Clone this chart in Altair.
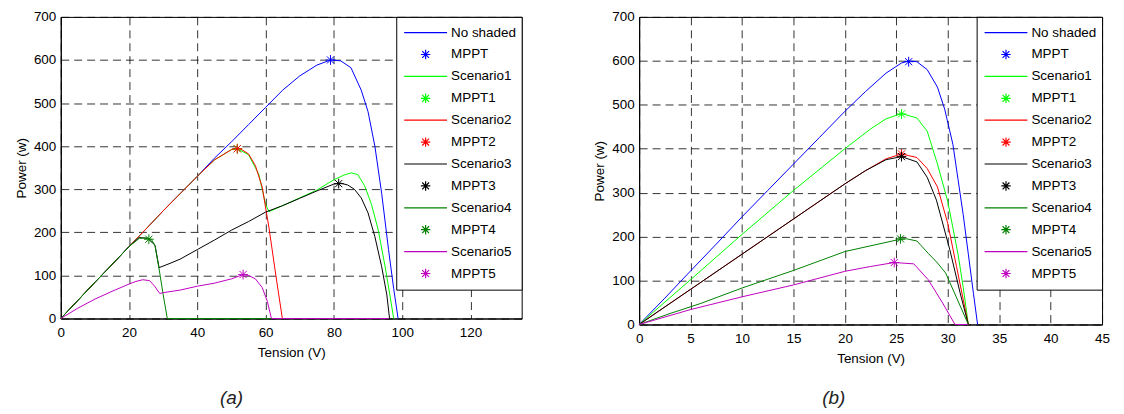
import altair as alt
import pandas as pd

# ---------------- Panel (a) ----------------
a_noshade_v = [0, 5, 10, 15, 20, 25, 30, 35, 40, 45, 50, 55, 60, 65, 70, 75, 79, 82, 85, 88, 90, 92, 94, 96, 97.5, 98.8]
a_noshade_p = [0, 42, 84, 125, 167, 208, 250, 290, 330, 372, 410, 450, 490, 530, 563, 588, 600, 598, 582, 530, 480, 400, 290, 160, 70, 0]

a_sc1_v = [0, 5, 10, 15, 20, 25, 30, 35, 40, 45, 50, 52, 55, 58, 60, 61, 65, 70, 75, 80, 83, 85, 87, 89, 91, 93, 95, 96.5, 97.5]
a_sc1_p = [0, 42, 84, 125, 167, 208, 250, 290, 330, 368, 392, 393, 380, 335, 265, 248, 262, 280, 298, 322, 333, 338, 334, 308, 265, 205, 120, 50, 0]

a_sc2_v = [0, 5, 10, 15, 20, 25, 30, 35, 40, 45, 50, 51.7, 53, 55, 57, 59, 61, 63, 64.9, 66, 96]
a_sc2_p = [0, 42, 84, 125, 167, 208, 250, 290, 330, 368, 392, 395, 392, 382, 355, 305, 210, 100, 0, 0, 0]

a_sc3_v = [0, 5, 10, 15, 20, 23, 25.5, 27.6, 28.8, 32, 35, 40, 45, 50, 55, 60, 65, 70, 75, 80, 82, 84, 86, 88, 90, 92, 94, 95.5, 96.3]
a_sc3_p = [0, 42, 84, 125, 167, 188, 186, 170, 118, 128, 138, 160, 182, 205, 225, 247, 262, 279, 296, 312, 314, 310, 300, 280, 245, 190, 120, 55, 0]

a_sc4_v = [0, 5, 10, 15, 20, 23, 25, 26.5, 27.6, 29, 30, 31.2, 32.5, 96]
a_sc4_p = [0, 42, 84, 125, 167, 186, 187, 184, 170, 105, 55, 0, 0, 0]

a_sc5_v = [0, 5, 10, 15, 20, 22, 24, 26, 27.5, 29, 30, 35, 40, 45, 50, 53.4, 55, 57, 59, 60.5, 61.7, 96]
a_sc5_p = [0, 24, 45, 63, 80, 86, 90, 88, 75, 58, 60, 66, 75, 82, 92, 102, 100, 92, 72, 40, 0, 0]

a_mppt_names = ["MPPT", "MPPT1", "MPPT2", "MPPT3", "MPPT4", "MPPT5"]
a_mppt_v = [79, 51.7, 51.7, 81.4, 25.8, 53.4]
a_mppt_p = [600, 394, 394, 313, 184, 102]

# ---------------- Panel (b) ----------------
b_noshade_v = [0, 2.5, 5, 7.5, 10, 12.5, 15, 17.5, 20, 22, 24, 25.5, 26.2, 27, 28, 29, 29.7, 30.5, 31, 31.5, 32, 32.5, 32.9]
b_noshade_p = [0, 60, 122, 183, 245, 305, 365, 425, 485, 530, 572, 595, 600, 598, 580, 540, 490, 410, 330, 250, 160, 70, 0]

b_sc1_v = [0, 5, 10, 15, 20, 22.5, 24, 25.5, 27, 28, 29, 30, 31, 31.5, 32]
b_sc1_p = [0, 102, 205, 305, 400, 445, 468, 480, 470, 440, 365, 280, 160, 85, 0]

b_sc2_v = [0, 5, 10, 15, 20, 22, 24, 25.5, 27, 28, 29, 30, 30.85, 31.5, 32]
b_sc2_p = [0, 80, 160, 240, 320, 350, 377, 388, 380, 355, 313, 230, 132, 57, 0]

b_sc3_v = [0, 5, 10, 15, 20, 22, 24, 25.5, 27, 28, 28.9, 30.2, 31.2, 32]
b_sc3_p = [0, 80, 160, 240, 320, 350, 375, 382, 370, 335, 283, 170, 72, 0]

b_sc4_v = [0, 3, 6, 10, 15, 20, 25, 26, 27, 28.1, 29, 29.8, 30.8, 32]
b_sc4_p = [0, 25, 48, 83, 123, 166, 192, 195, 190, 162, 140, 117, 64, 0]

b_sc5_v = [0, 5, 10, 15, 20, 22.5, 24.8, 26.7, 28.1, 29.5, 30.7, 32]
b_sc5_p = [0, 34, 63, 90, 121, 132, 141, 138, 102, 49, 0, 0]

b_mppt_names = ["MPPT", "MPPT1", "MPPT2", "MPPT3", "MPPT4", "MPPT5"]
b_mppt_v = [26.2, 25.5, 25.5, 25.5, 25.4, 24.8]
b_mppt_p = [598, 479, 388, 382, 195, 141]

# ---------------- Legend / styling ----------------
SERIES = ["No shaded", "MPPT", "Scenario1", "MPPT1", "Scenario2", "MPPT2",
          "Scenario3", "MPPT3", "Scenario4", "MPPT4", "Scenario5", "MPPT5"]
COLORS = ["#0000ff", "#0000ff", "#00ff00", "#00ff00", "#ff0000", "#ff0000",
          "#000000", "#000000", "#008000", "#008000", "#bf00bf", "#bf00bf"]
LINE_SYM = "M-1,0L1,0"
STAR_SYM = "M0,-0.22L0,0.22M-0.22,0L0.22,0M-0.16,-0.16L0.16,0.16M-0.16,0.16L0.16,-0.16"
SHAPES = [LINE_SYM, STAR_SYM] * 6

FONT = "Liberation Sans"


def lines_frame(curves):
    rows = []
    for name, vs, ps in curves:
        for v, p in zip(vs, ps):
            rows.append({"series": name, "V": v, "P": p})
    return pd.DataFrame(rows)


def pts_frame(names, vs, ps):
    return pd.DataFrame({"series": names, "V": vs, "P": ps})


def panel(ldf, pdf, xmax, xticks, w, h, caption, dx, toff):
    x = alt.X("V:Q", scale=alt.Scale(domain=[0, xmax], nice=False, zero=False),
              axis=alt.Axis(values=xticks, title="Tension (V)", labelFlush=False))
    y = alt.Y("P:Q", scale=alt.Scale(domain=[0, 700], nice=False),
              axis=alt.Axis(values=list(range(0, 701, 100)), title="Power (w)", labelFlush=False))
    leg = alt.Legend(title=None, orient="top-right", offset=0)
    color = alt.Color("series:N", scale=alt.Scale(domain=SERIES, range=COLORS), legend=leg)
    shape = alt.Shape("series:N", scale=alt.Scale(domain=SERIES, range=SHAPES), legend=leg)
    lines = alt.Chart(ldf).mark_line(strokeWidth=1).encode(x=x, y=y, color=color)
    pts = alt.Chart(pdf).mark_point(filled=False, size=2000, strokeWidth=1, opacity=1).encode(
        x=x, y=y, color=color, shape=shape)
    return alt.layer(lines, pts).properties(
        width=w, height=h,
        title=alt.TitleParams(caption, orient="bottom", anchor="middle", frame="group",
                              dx=dx, offset=toff, fontSize=19, fontStyle="italic",
                              font=FONT, fontWeight="normal", color="#222222"))


a_lines = lines_frame([
    ("No shaded", a_noshade_v, a_noshade_p),
    ("Scenario1", a_sc1_v, a_sc1_p),
    ("Scenario2", a_sc2_v, a_sc2_p),
    ("Scenario3", a_sc3_v, a_sc3_p),
    ("Scenario4", a_sc4_v, a_sc4_p),
    ("Scenario5", a_sc5_v, a_sc5_p),
])
b_lines = lines_frame([
    ("No shaded", b_noshade_v, b_noshade_p),
    ("Scenario1", b_sc1_v, b_sc1_p),
    ("Scenario2", b_sc2_v, b_sc2_p),
    ("Scenario3", b_sc3_v, b_sc3_p),
    ("Scenario4", b_sc4_v, b_sc4_p),
    ("Scenario5", b_sc5_v, b_sc5_p),
])

left = panel(a_lines, pts_frame(a_mppt_names, a_mppt_v, a_mppt_p), 135,
             list(range(0, 121, 20)), 463, 303, "(a)", -60, 30)
right = panel(b_lines, pts_frame(b_mppt_names, b_mppt_v, b_mppt_p), 45,
              list(range(0, 46, 5)), 465, 309, "(b)", -37, 24)

chart = alt.hconcat(left, right, spacing=69).resolve_scale(
    color="independent", shape="independent").resolve_legend(
    color="independent", shape="independent").properties(
    padding={"left": 5, "top": 0, "right": 5, "bottom": 5}
).configure_view(stroke="black", strokeWidth=1).configure_axis(
    grid=True, gridColor="black", gridOpacity=1, gridWidth=0.8, gridDash=[8, 5],
    ticks=False, tickSize=0, domainColor="black", domainWidth=1,
    labelFont=FONT, labelFontSize=13.5, labelColor="black",
    titleFont=FONT, titleFontSize=13.5, titleFontWeight="normal", titleColor="black",
).configure_axisX(labelPadding=7, titlePadding=7).configure_axisY(
    labelPadding=5, titlePadding=5).configure_legend(
    padding=5, fillColor="white", strokeColor="black", strokeWidth=1, cornerRadius=0,
    labelFont=FONT, labelFontSize=13.5, labelColor="black", clipHeight=21.6,
    symbolSize=1850, symbolStrokeWidth=1.2, symbolOffset=2, labelOffset=3,
    rowPadding=0, symbolFillColor="transparent",
)

chart.save("out.html", embed_options={"renderer": "svg", "actions": False})
